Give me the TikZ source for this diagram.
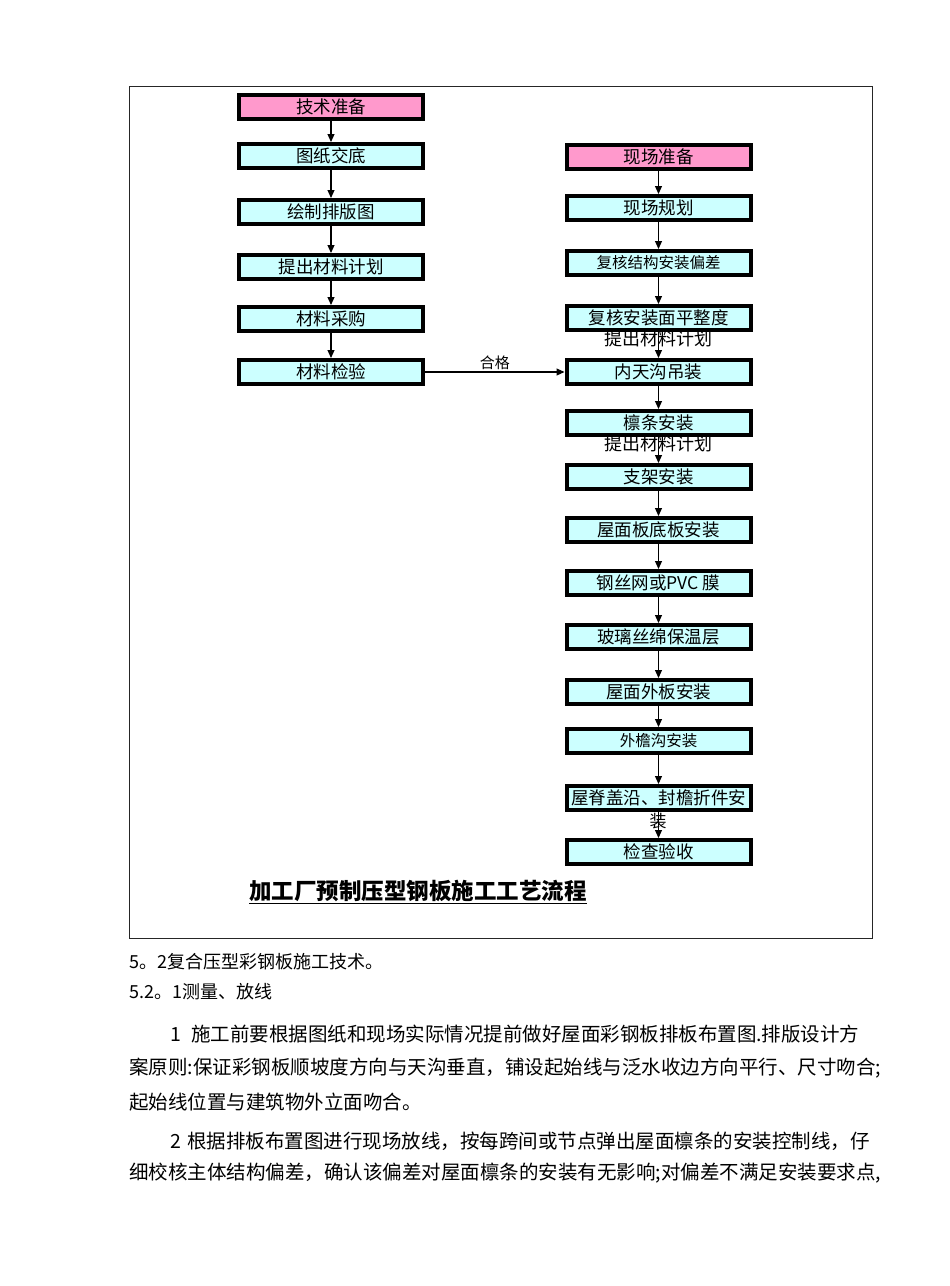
\documentclass[tikz,border=0pt]{standalone}
\usepackage{fontspec}
\setmainfont{Noto Sans CJK SC}
\usetikzlibrary{arrows.meta}
\definecolor{headpink}{HTML}{FF99CC}
\definecolor{stepcyan}{HTML}{CCFFFF}
\begin{document}
\begin{tikzpicture}[x=1bp,y=-1bp,
 box/.style={draw=black,line width=4bp,fill=stepcyan,minimum width=184bp,minimum height=24bp,inner sep=0pt,font=\fontsize{17.5bp}{17.5bp}\selectfont},
 headbox/.style={box,fill=headpink},
 smallbox/.style={box,font=\fontsize{15.5bp}{15.5bp}\selectfont},
 flow/.style={line width=1.1bp,-{Triangle[length=8bp,width=7bp]}},
 note/.style={inner sep=0pt,font=\fontsize{18bp}{18bp}\selectfont},
 body/.style={anchor=west,inner sep=0pt,font=\fontsize{19.5bp}{19.5bp}\selectfont},
 headline/.style={anchor=west,inner sep=0pt,font=\fontsize{18bp}{18bp}\selectfont}]
\useasboundingbox[fill=white] (0,0) rectangle (950,1286);
\draw[line width=1bp,black!85] (129,86) rectangle (872,938);
% left column
\node[headbox] (L1) at (331,107) {技术准备};
\node[box] (L2) at (331,156) {图纸交底};
\node[box] (L3) at (331,212) {绘制排版图};
\node[box] (L4) at (331,267) {提出材料计划};
\node[box] (L5) at (331,319) {材料采购};
\node[box] (L6) at (331,372) {材料检验};
% right column
\node[headbox] (R1) at (658.5,157) {现场准备};
\node[box] (R2) at (658.5,208) {现场规划};
\node[smallbox] (R3) at (658.5,263) {复核结构安装偏差};
\node[box] (R4) at (658.5,318) {复核安装面平整度};
\node[box] (R5) at (658.5,372) {内天沟吊装};
\node[box] (R6) at (658.5,423) {檩条安装};
\node[box] (R7) at (658.5,477) {支架安装};
\node[box] (R8) at (658.5,530) {屋面板底板安装};
\node[box] (R9) at (658.5,583) {钢丝网或PVC 膜};
\node[box] (R10) at (658.5,637) {玻璃丝绵保温层};
\node[box] (R11) at (658.5,692) {屋面外板安装};
\node[smallbox] (R12) at (658.5,741) {外檐沟安装};
\node[box] (R13) at (658.5,798) {屋脊盖沿、封檐折件安};
\node[box] (R14) at (658.5,852) {检查验收};
% arrows
\foreach \a/\b in {L1/L2,L2/L3,L3/L4,L4/L5,L5/L6,R1/R2,R2/R3,R3/R4,R4/R5,R5/R6,R6/R7,R7/R8,R8/R9,R9/R10,R10/R11,R11/R12,R12/R13,R13/R14}
  \draw[flow] (\a.south) -- (\b.north);
\draw[flow] (L6.east) -- node[above=1bp,inner sep=1bp,font=\fontsize{15bp}{15bp}\selectfont] (ok) {合格} (R5.west);
% overflowing texts
\node[note] (n1) at (658,339) {提出材料计划};
\node[note] (n2) at (658,444) {提出材料计划};
\node[note,font=\fontsize{17bp}{17bp}\selectfont] (n3) at (658,821) {装};
% title
\node[inner sep=0pt,font=\fontsize{22.5bp}{22.5bp}\selectfont\bfseries] (title) at (418,892) {\underline{加工厂预制压型钢板施工工艺流程}};
% body text
\node[headline] (p1) at (129,962) {5。2复合压型彩钢板施工技术。};
\node[headline] (p2) at (129,992) {5.2。1测量、放线};
\node[body] (p3) at (170,1034) {1\hspace{10bp}施工前要根据图纸和现场实际情况提前做好屋面彩钢板排板布置图.排版设计方};
\node[body] (p4) at (129,1068) {案原则:保证彩钢板顺坡度方向与天沟垂直，铺设起始线与泛水收边方向平行、尺寸吻合;};
\node[body] (p5) at (129,1102) {起始线位置与建筑物外立面吻合。};
\node[body] (p6) at (170,1141) {2\hspace{6bp}根据排板布置图进行现场放线，按每跨间或节点弹出屋面檩条的安装控制线，仔};
\node[body] (p7) at (129,1173) {细校核主体结构偏差，确认该偏差对屋面檩条的安装有无影响;对偏差不满足安装要求点,};
\end{tikzpicture}
\end{document}
